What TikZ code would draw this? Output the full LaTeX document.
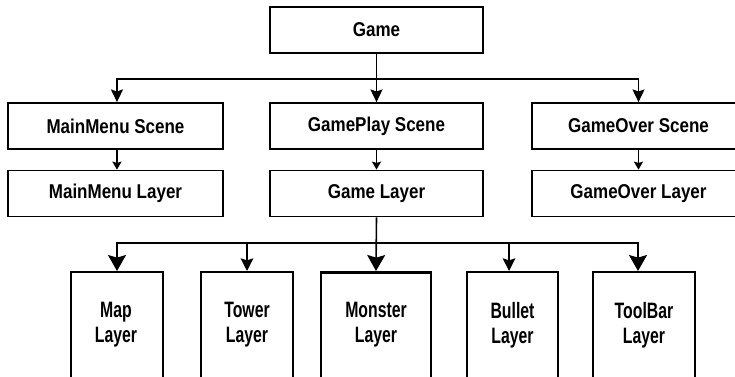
\documentclass[tikz,border=0pt]{standalone}
\usepackage{fontspec}
\setmainfont{Liberation Sans}[FakeStretch=0.85,UprightFont=* Bold]
\newfontfamily\narrowfont{Liberation Sans}[FakeStretch=0.71,UprightFont=* Bold]
\usetikzlibrary{arrows.meta}
\begin{document}
\begin{tikzpicture}[x=0.75pt,y=-0.75pt,
  font=\fontsize{15}{19.5}\selectfont,
  topbox/.style={draw,line width=1.3pt,rectangle,minimum width=213*0.75pt,minimum height=46*0.75pt,inner sep=0pt},
  lowbox/.style={draw,line width=1.3pt,rectangle,minimum height=160*0.75pt,anchor=north,inner sep=0pt},
  lbl/.style={align=center,inner sep=0pt,font=\narrowfont\fontsize{16.7}{18.75}\selectfont},
  conn/.style={line width=1.2pt},
  bigtip/.style={-{Stealth[length=12pt,width=13.5pt,inset=2pt]}},
  midtip/.style={-{Stealth[length=9.5pt,width=9.5pt,inset=1.5pt]}},
  toptip/.style={-{Stealth[length=9.5pt,width=9pt,inset=1.5pt]}},
  smalltip/.style={-{Stealth[length=6pt,width=6.8pt,inset=1pt]}}]
\clip (0,0) rectangle (735,377);
% top level
\node[topbox] (game) at (376.5,30) {Game};
\node[topbox,minimum width=215*0.75pt] (mms) at (115.5,126) {MainMenu Scene};
\node[topbox] (gps) at (376.5,126) {GamePlay Scene};
\node[topbox] (gos) at (638.5,126) {GameOver Scene};
\node[topbox,minimum width=215*0.75pt] (mml) at (115.5,193.5) {MainMenu Layer};
\node[topbox] (gl) at (376.5,193.5) {Game Layer};
\node[topbox] (gol) at (638.5,193.5) {GameOver Layer};
% bottom boxes
\node[lowbox,minimum width=92*0.75pt] (mapbox) at (117,271) {};
\node[lowbox,minimum width=92*0.75pt] (towbox) at (247,271) {};
\node[lowbox,minimum width=110*0.75pt,line width=2pt] (monbox) at (376,271) {};
\node[lowbox,minimum width=91*0.75pt] (bulbox) at (512.5,271) {};
\node[lowbox,minimum width=102*0.75pt] (tbbox) at (644,271) {};
\node[lbl] (map) at (116,325) {Map\\Layer};
\node[lbl] (tow) at (247,325) {Tower\\Layer};
\node[lbl] (mon) at (376,325) {Monster\\Layer};
\node[lbl] (bul) at (512.5,325) {Bullet\\Layer};
\node[lbl] (tb) at (644,325) {ToolBar\\Layer};
% connectors
\coordinate (b1) at (376.5,79);
\coordinate (b2) at (376.5,243);
\draw[conn,toptip] (game.south) -- (gps.north);
\draw[conn,toptip] (b1) -| ([xshift=1.1pt]mms.north);
\draw[conn,toptip] (b1) -| (gos.north);
\draw[conn,smalltip] ([xshift=1.1pt]mms.south) -- ([xshift=1.1pt]mml.north);
\draw[conn,smalltip] (gps.south) -- (gl.north);
\draw[conn,smalltip] (gos.south) -- (gol.north);
\draw[conn,bigtip] (gl.south) -- (monbox.north);
\draw[conn,bigtip] (b2) -| (mapbox.north);
\draw[conn,midtip] (b2) -| (towbox.north);
\draw[conn,midtip] (b2) -| ([xshift=-2.6pt]bulbox.north);
\draw[conn,bigtip] (b2) -| ([xshift=-4.5pt]tbbox.north);
\end{tikzpicture}
\end{document}
